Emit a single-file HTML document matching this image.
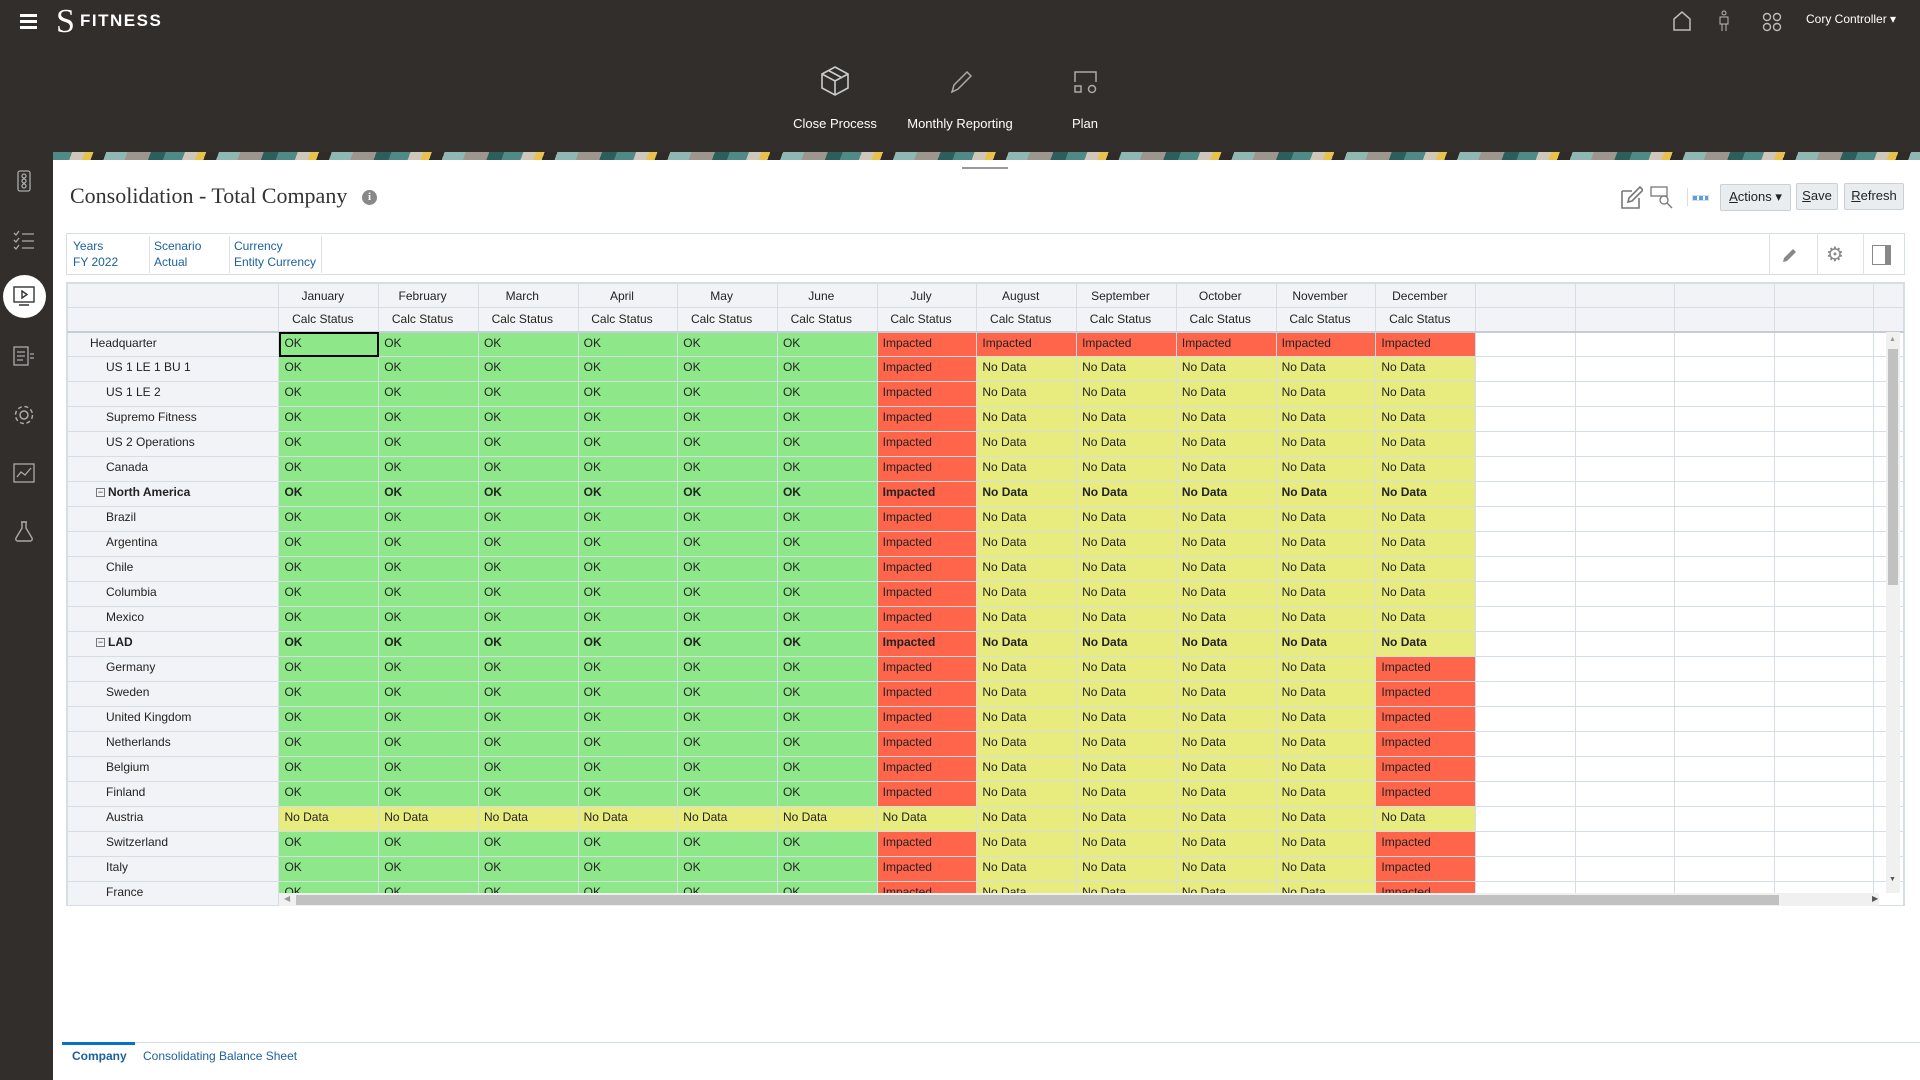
<!DOCTYPE html>
<html><head><meta charset="utf-8">
<style>
*{box-sizing:border-box;margin:0;padding:0}
body{width:1920px;height:1080px;position:relative;overflow:hidden;background:#fff;font-family:"Liberation Sans",Arial,sans-serif;color:#222}
.abs{position:absolute}
#top{left:0;top:0;width:1920px;height:152px;background:#322e2b}
#side{left:0;top:152px;width:53px;height:928px;background:#322e2b}
#banner{left:53px;top:152px;width:1867px;height:8px;background:repeating-linear-gradient(110deg,#4f8a86 0 18px,#cfc8ba 18px 30px,#e8c24a 30px 38px,#2f2b28 38px 50px,#8fb8b2 50px 70px,#9c968e 70px 92px,#2c5f5c 92px 106px)}
.nav{color:#fff;font-size:13px;text-align:center;width:140px}
.grid{left:66px;top:282px;width:1839px;height:624px;border:1px solid #d5dde5;overflow:hidden;background:#fff}
table{border-collapse:collapse;table-layout:fixed;font-size:12px}
td{height:25px;border:1px solid #d5dde5;vertical-align:top;padding:3px 0 0 5px;white-space:nowrap;overflow:hidden;line-height:15px}
td.l{background:#f1f3f7;padding-left:38px}
td.h0{padding-left:22px}
td.p{padding-left:28px;font-weight:bold}
tr.b td{font-weight:bold}
th{height:24px;background:#f1f3f7;border:1px solid #d5dde5;font-weight:normal;font-size:12px;line-height:16px;padding-right:12px}
tr.hd2 th{border-bottom:2px solid #c4ccd4}
.g{background:#8ee88a}.r{background:#ff654a}.y{background:#e8ec7e}
.pov{font-size:12px;color:#1c5f9e;line-height:16px}
.btn{border:1px solid #c9d0d6;background:#e9edf0;border-radius:2px;font-size:13px;color:#222;text-align:center;line-height:24px}
.bx{display:inline-block;width:9px;height:9px;border:1px solid #777;font-size:9px;line-height:6px;text-align:center;margin-right:3px;vertical-align:1px;font-weight:normal}
</style></head><body>
<div id="top" class="abs"></div>
<div id="side" class="abs"></div>
<div id="banner" class="abs"></div>
<div class="abs" style="left:20px;top:14px;width:17px;height:3px;background:#fff;box-shadow:0 6px 0 #fff,0 12px 0 #fff"></div>
<div class="abs" style="left:56px;top:4px;color:#fff;font-size:34px;font-family:'Liberation Serif',serif;line-height:36px">S</div>
<div class="abs" style="left:80px;top:11px;color:#fff;font-size:17px;font-weight:bold;letter-spacing:1.5px">FITNESS</div>
<svg class="abs" style="left:1672px;top:11px" width="20" height="20"><path d="M2 8 L10 1 L18 8 V19 H2 Z" fill="none" stroke="#bbb" stroke-width="1.5"/></svg>
<svg class="abs" style="left:1717px;top:10px" width="14" height="22"><circle cx="7" cy="3" r="2" fill="none" stroke="#bbb"/><path d="M3 7h8v7H3zM5 14v7M9 14v7" fill="none" stroke="#bbb"/></svg>
<svg class="abs" style="left:1762px;top:12px" width="20" height="20"><g fill="none" stroke="#bbb" stroke-width="1.4"><circle cx="5" cy="5" r="3.5"/><circle cx="15" cy="5" r="3.5"/><circle cx="5" cy="15" r="3.5"/><circle cx="15" cy="15" r="3.5"/></g></svg>
<div class="abs" style="left:1806px;top:12px;color:#fff;font-size:12px">Cory Controller ▾</div>
<svg class="abs" style="left:820px;top:65px" width="30" height="32"><g fill="none" stroke="#ccc" stroke-width="1.6"><path d="M15 2 L28 9 V23 L15 30 L2 23 V9 Z M2 9 L15 16 L28 9 M15 16 V30 M8.5 5.5 L21.5 12.5"/></g></svg>
<div class="abs nav" style="left:765px;top:116px">Close Process</div>
<svg class="abs" style="left:948px;top:68px" width="26" height="28"><path d="M4 24 L6 17 L19 4 L23 8 L10 21 Z" fill="none" stroke="#aaa" stroke-width="1.5"/></svg>
<div class="abs nav" style="left:890px;top:116px">Monthly Reporting</div>
<svg class="abs" style="left:1072px;top:68px" width="28" height="28"><g fill="none" stroke="#aaa" stroke-width="1.5"><path d="M3 14 V4 H24 V14"/><rect x="3" y="18" width="6" height="6"/><circle cx="20" cy="21" r="3.5"/></g></svg>
<div class="abs nav" style="left:1015px;top:116px">Plan</div>
<svg class="abs" style="left:14px;top:170px" width="20" height="22"><g fill="none" stroke="#aaa" stroke-width="1.3"><rect x="4" y="1" width="12" height="20" rx="2"/><circle cx="10" cy="6" r="2"/><circle cx="10" cy="11" r="2"/><circle cx="10" cy="16" r="2"/></g></svg>
<svg class="abs" style="left:13px;top:230px" width="22" height="20"><g fill="none" stroke="#aaa" stroke-width="1.3"><path d="M1 3l2 2 3-4M1 10l2 2 3-4M1 17l2 2 3-4M9 4h12M9 11h12M9 18h12"/></g></svg>
<div class="abs" style="left:3px;top:275px;width:43px;height:43px;border-radius:50%;background:#fff"></div>
<svg class="abs" style="left:13px;top:286px" width="22" height="20"><g fill="none" stroke="#333" stroke-width="1.4"><rect x="1" y="1" width="20" height="15"/><path d="M9 5 L14 8.5 L9 12 Z M6 19h10"/></g></svg>
<svg class="abs" style="left:13px;top:346px" width="22" height="20"><g fill="none" stroke="#aaa" stroke-width="1.3"><rect x="1" y="1" width="14" height="18"/><path d="M4 6h8M4 10h8M4 14h6M17 8h4M17 12h4"/></g></svg>
<svg class="abs" style="left:13px;top:404px" width="22" height="22"><g fill="none" stroke="#aaa" stroke-width="1.5"><circle cx="11" cy="11" r="4"/><circle cx="11" cy="11" r="8.5" stroke-dasharray="4 2.7"/></g></svg>
<svg class="abs" style="left:13px;top:463px" width="22" height="20"><g fill="none" stroke="#aaa" stroke-width="1.3"><rect x="1" y="1" width="20" height="18"/><path d="M4 14l4-5 4 3 6-7"/></g></svg>
<svg class="abs" style="left:14px;top:520px" width="20" height="22"><g fill="none" stroke="#aaa" stroke-width="1.4"><path d="M7 2h6M8 2v6L2 18a2 2 0 0 0 2 3h12a2 2 0 0 0 2-3L12 8V2"/></g></svg>
<div class="abs" style="left:962px;top:167px;width:46px;height:2px;background:#999"></div>
<div class="abs" style="left:70px;top:183px;font-family:'Liberation Serif',serif;font-size:22px;color:#333">Consolidation - Total Company</div>
<div class="abs" style="left:362px;top:190px;width:15px;height:15px;border-radius:50%;background:#888;color:#fff;font-size:11px;font-weight:bold;text-align:center;line-height:15px;font-family:'Liberation Serif',serif">i</div>
<svg class="abs" style="left:1621px;top:186px" width="22" height="24"><g fill="none" stroke="#777" stroke-width="1.6"><path d="M1 5h10M1 5v17h17V12"/><path d="M7 16l1-4 11-11 3 3-11 11z"/></g></svg>
<svg class="abs" style="left:1650px;top:186px" width="24" height="24"><g fill="none" stroke="#777" stroke-width="1.3"><rect x="1" y="1" width="16" height="9"/><circle cx="14" cy="14" r="4"/><path d="M17 17l5 5"/></g></svg>
<div class="abs" style="left:1687px;top:188px;width:1px;height:18px;background:#ddd"></div>
<div class="abs" style="left:1692px;top:195px;width:17px;height:6px;border:1px solid #ddd;background:repeating-linear-gradient(90deg,#5aa0e0 0 4px,#fff 4px 6px)"></div>
<div class="abs btn" style="left:1720px;top:184px;width:71px;height:27px"><u>A</u>ctions ▾</div>
<div class="abs btn" style="left:1796px;top:183px;width:42px;height:27px"><u>S</u>ave</div>
<div class="abs btn" style="left:1844px;top:183px;width:60px;height:27px"><u>R</u>efresh</div>
<div class="abs" style="left:66px;top:233px;width:1839px;height:42px;border:1px solid #d5dde5"></div>
<div class="abs pov" style="left:73px;top:238px">Years<br>FY 2022</div>
<div class="abs" style="left:149px;top:236px;width:1px;height:37px;background:#dde3e8"></div>
<div class="abs pov" style="left:154px;top:238px">Scenario<br>Actual</div>
<div class="abs" style="left:229px;top:236px;width:1px;height:37px;background:#dde3e8"></div>
<div class="abs pov" style="left:234px;top:238px">Currency<br>Entity Currency</div>
<div class="abs" style="left:321px;top:236px;width:1px;height:37px;background:#dde3e8"></div>
<div class="abs" style="left:1769px;top:233px;width:1px;height:42px;background:#dde3e8"></div>
<div class="abs" style="left:1817px;top:233px;width:1px;height:42px;background:#dde3e8"></div>
<div class="abs" style="left:1863px;top:233px;width:1px;height:42px;background:#dde3e8"></div>
<svg class="abs" style="left:1781px;top:246px" width="18" height="18"><path d="M2 16l1-4 9-9 3 3-9 9z" fill="#888"/></svg>
<div class="abs" style="left:1826px;top:242px;font-size:20px;color:#888">⚙</div>
<div class="abs" style="left:1872px;top:245px;width:19px;height:20px;border:1px solid #888;border-right:6px solid #888"></div>
<div class="abs grid">
<table>
<colgroup><col style="width:212px"><col span="16" style="width:100px"><col style="width:30px"></colgroup>
<tr><th></th><th>January</th><th>February</th><th>March</th><th>April</th><th>May</th><th>June</th><th>July</th><th>August</th><th>September</th><th>October</th><th>November</th><th>December</th><th></th><th></th><th></th><th></th><th></th></tr>
<tr class="hd2"><th></th><th>Calc Status</th><th>Calc Status</th><th>Calc Status</th><th>Calc Status</th><th>Calc Status</th><th>Calc Status</th><th>Calc Status</th><th>Calc Status</th><th>Calc Status</th><th>Calc Status</th><th>Calc Status</th><th>Calc Status</th><th></th><th></th><th></th><th></th><th></th></tr>
<tr><td class="l h0">Headquarter</td><td class="g" style="outline:2px solid #000;outline-offset:-2px">OK</td><td class="g">OK</td><td class="g">OK</td><td class="g">OK</td><td class="g">OK</td><td class="g">OK</td><td class="r">Impacted</td><td class="r">Impacted</td><td class="r">Impacted</td><td class="r">Impacted</td><td class="r">Impacted</td><td class="r">Impacted</td><td></td><td></td><td></td><td></td><td></td></tr>
<tr><td class="l">US 1 LE 1 BU 1</td><td class="g">OK</td><td class="g">OK</td><td class="g">OK</td><td class="g">OK</td><td class="g">OK</td><td class="g">OK</td><td class="r">Impacted</td><td class="y">No Data</td><td class="y">No Data</td><td class="y">No Data</td><td class="y">No Data</td><td class="y">No Data</td><td></td><td></td><td></td><td></td><td></td></tr>
<tr><td class="l">US 1 LE 2</td><td class="g">OK</td><td class="g">OK</td><td class="g">OK</td><td class="g">OK</td><td class="g">OK</td><td class="g">OK</td><td class="r">Impacted</td><td class="y">No Data</td><td class="y">No Data</td><td class="y">No Data</td><td class="y">No Data</td><td class="y">No Data</td><td></td><td></td><td></td><td></td><td></td></tr>
<tr><td class="l">Supremo Fitness</td><td class="g">OK</td><td class="g">OK</td><td class="g">OK</td><td class="g">OK</td><td class="g">OK</td><td class="g">OK</td><td class="r">Impacted</td><td class="y">No Data</td><td class="y">No Data</td><td class="y">No Data</td><td class="y">No Data</td><td class="y">No Data</td><td></td><td></td><td></td><td></td><td></td></tr>
<tr><td class="l">US 2 Operations</td><td class="g">OK</td><td class="g">OK</td><td class="g">OK</td><td class="g">OK</td><td class="g">OK</td><td class="g">OK</td><td class="r">Impacted</td><td class="y">No Data</td><td class="y">No Data</td><td class="y">No Data</td><td class="y">No Data</td><td class="y">No Data</td><td></td><td></td><td></td><td></td><td></td></tr>
<tr><td class="l">Canada</td><td class="g">OK</td><td class="g">OK</td><td class="g">OK</td><td class="g">OK</td><td class="g">OK</td><td class="g">OK</td><td class="r">Impacted</td><td class="y">No Data</td><td class="y">No Data</td><td class="y">No Data</td><td class="y">No Data</td><td class="y">No Data</td><td></td><td></td><td></td><td></td><td></td></tr>
<tr class="b"><td class="l p"><span class="bx">−</span>North America</td><td class="g">OK</td><td class="g">OK</td><td class="g">OK</td><td class="g">OK</td><td class="g">OK</td><td class="g">OK</td><td class="r">Impacted</td><td class="y">No Data</td><td class="y">No Data</td><td class="y">No Data</td><td class="y">No Data</td><td class="y">No Data</td><td></td><td></td><td></td><td></td><td></td></tr>
<tr><td class="l">Brazil</td><td class="g">OK</td><td class="g">OK</td><td class="g">OK</td><td class="g">OK</td><td class="g">OK</td><td class="g">OK</td><td class="r">Impacted</td><td class="y">No Data</td><td class="y">No Data</td><td class="y">No Data</td><td class="y">No Data</td><td class="y">No Data</td><td></td><td></td><td></td><td></td><td></td></tr>
<tr><td class="l">Argentina</td><td class="g">OK</td><td class="g">OK</td><td class="g">OK</td><td class="g">OK</td><td class="g">OK</td><td class="g">OK</td><td class="r">Impacted</td><td class="y">No Data</td><td class="y">No Data</td><td class="y">No Data</td><td class="y">No Data</td><td class="y">No Data</td><td></td><td></td><td></td><td></td><td></td></tr>
<tr><td class="l">Chile</td><td class="g">OK</td><td class="g">OK</td><td class="g">OK</td><td class="g">OK</td><td class="g">OK</td><td class="g">OK</td><td class="r">Impacted</td><td class="y">No Data</td><td class="y">No Data</td><td class="y">No Data</td><td class="y">No Data</td><td class="y">No Data</td><td></td><td></td><td></td><td></td><td></td></tr>
<tr><td class="l">Columbia</td><td class="g">OK</td><td class="g">OK</td><td class="g">OK</td><td class="g">OK</td><td class="g">OK</td><td class="g">OK</td><td class="r">Impacted</td><td class="y">No Data</td><td class="y">No Data</td><td class="y">No Data</td><td class="y">No Data</td><td class="y">No Data</td><td></td><td></td><td></td><td></td><td></td></tr>
<tr><td class="l">Mexico</td><td class="g">OK</td><td class="g">OK</td><td class="g">OK</td><td class="g">OK</td><td class="g">OK</td><td class="g">OK</td><td class="r">Impacted</td><td class="y">No Data</td><td class="y">No Data</td><td class="y">No Data</td><td class="y">No Data</td><td class="y">No Data</td><td></td><td></td><td></td><td></td><td></td></tr>
<tr class="b"><td class="l p"><span class="bx">−</span>LAD</td><td class="g">OK</td><td class="g">OK</td><td class="g">OK</td><td class="g">OK</td><td class="g">OK</td><td class="g">OK</td><td class="r">Impacted</td><td class="y">No Data</td><td class="y">No Data</td><td class="y">No Data</td><td class="y">No Data</td><td class="y">No Data</td><td></td><td></td><td></td><td></td><td></td></tr>
<tr><td class="l">Germany</td><td class="g">OK</td><td class="g">OK</td><td class="g">OK</td><td class="g">OK</td><td class="g">OK</td><td class="g">OK</td><td class="r">Impacted</td><td class="y">No Data</td><td class="y">No Data</td><td class="y">No Data</td><td class="y">No Data</td><td class="r">Impacted</td><td></td><td></td><td></td><td></td><td></td></tr>
<tr><td class="l">Sweden</td><td class="g">OK</td><td class="g">OK</td><td class="g">OK</td><td class="g">OK</td><td class="g">OK</td><td class="g">OK</td><td class="r">Impacted</td><td class="y">No Data</td><td class="y">No Data</td><td class="y">No Data</td><td class="y">No Data</td><td class="r">Impacted</td><td></td><td></td><td></td><td></td><td></td></tr>
<tr><td class="l">United Kingdom</td><td class="g">OK</td><td class="g">OK</td><td class="g">OK</td><td class="g">OK</td><td class="g">OK</td><td class="g">OK</td><td class="r">Impacted</td><td class="y">No Data</td><td class="y">No Data</td><td class="y">No Data</td><td class="y">No Data</td><td class="r">Impacted</td><td></td><td></td><td></td><td></td><td></td></tr>
<tr><td class="l">Netherlands</td><td class="g">OK</td><td class="g">OK</td><td class="g">OK</td><td class="g">OK</td><td class="g">OK</td><td class="g">OK</td><td class="r">Impacted</td><td class="y">No Data</td><td class="y">No Data</td><td class="y">No Data</td><td class="y">No Data</td><td class="r">Impacted</td><td></td><td></td><td></td><td></td><td></td></tr>
<tr><td class="l">Belgium</td><td class="g">OK</td><td class="g">OK</td><td class="g">OK</td><td class="g">OK</td><td class="g">OK</td><td class="g">OK</td><td class="r">Impacted</td><td class="y">No Data</td><td class="y">No Data</td><td class="y">No Data</td><td class="y">No Data</td><td class="r">Impacted</td><td></td><td></td><td></td><td></td><td></td></tr>
<tr><td class="l">Finland</td><td class="g">OK</td><td class="g">OK</td><td class="g">OK</td><td class="g">OK</td><td class="g">OK</td><td class="g">OK</td><td class="r">Impacted</td><td class="y">No Data</td><td class="y">No Data</td><td class="y">No Data</td><td class="y">No Data</td><td class="r">Impacted</td><td></td><td></td><td></td><td></td><td></td></tr>
<tr><td class="l">Austria</td><td class="y">No Data</td><td class="y">No Data</td><td class="y">No Data</td><td class="y">No Data</td><td class="y">No Data</td><td class="y">No Data</td><td class="y">No Data</td><td class="y">No Data</td><td class="y">No Data</td><td class="y">No Data</td><td class="y">No Data</td><td class="y">No Data</td><td></td><td></td><td></td><td></td><td></td></tr>
<tr><td class="l">Switzerland</td><td class="g">OK</td><td class="g">OK</td><td class="g">OK</td><td class="g">OK</td><td class="g">OK</td><td class="g">OK</td><td class="r">Impacted</td><td class="y">No Data</td><td class="y">No Data</td><td class="y">No Data</td><td class="y">No Data</td><td class="r">Impacted</td><td></td><td></td><td></td><td></td><td></td></tr>
<tr><td class="l">Italy</td><td class="g">OK</td><td class="g">OK</td><td class="g">OK</td><td class="g">OK</td><td class="g">OK</td><td class="g">OK</td><td class="r">Impacted</td><td class="y">No Data</td><td class="y">No Data</td><td class="y">No Data</td><td class="y">No Data</td><td class="r">Impacted</td><td></td><td></td><td></td><td></td><td></td></tr>
<tr><td class="l">France</td><td class="g">OK</td><td class="g">OK</td><td class="g">OK</td><td class="g">OK</td><td class="g">OK</td><td class="g">OK</td><td class="r">Impacted</td><td class="y">No Data</td><td class="y">No Data</td><td class="y">No Data</td><td class="y">No Data</td><td class="r">Impacted</td><td></td><td></td><td></td><td></td><td></td></tr>
</table>
</div>
<div class="abs" style="left:279px;top:893px;width:1600px;height:13px;background:#f0f0f0"></div>
<div class="abs" style="left:296px;top:895px;width:1483px;height:10px;background:#c1c1c1"></div>
<div class="abs" style="left:284px;top:894px;font-size:8px;color:#999">◀</div>
<div class="abs" style="left:1872px;top:894px;font-size:8px;color:#555">▶</div>
<div class="abs" style="left:1886px;top:332px;width:14px;height:561px;background:#f0f0f0"></div>
<div class="abs" style="left:1888px;top:349px;width:10px;height:236px;background:#c1c1c1"></div>
<div class="abs" style="left:1889px;top:336px;font-size:7px;color:#999">▲</div>
<div class="abs" style="left:1889px;top:876px;font-size:7px;color:#555">▼</div>
<div class="abs" style="left:62px;top:1042px;width:1858px;height:1px;background:#d5dde5"></div>
<div class="abs" style="left:62px;top:1042px;width:73px;height:3px;background:#0572ce"></div>
<div class="abs" style="left:72px;top:1049px;font-size:12px;font-weight:bold;color:#1c5f9e">Company</div>
<div class="abs" style="left:143px;top:1049px;font-size:12px;color:#1c5f9e">Consolidating Balance Sheet</div>
</body></html>
